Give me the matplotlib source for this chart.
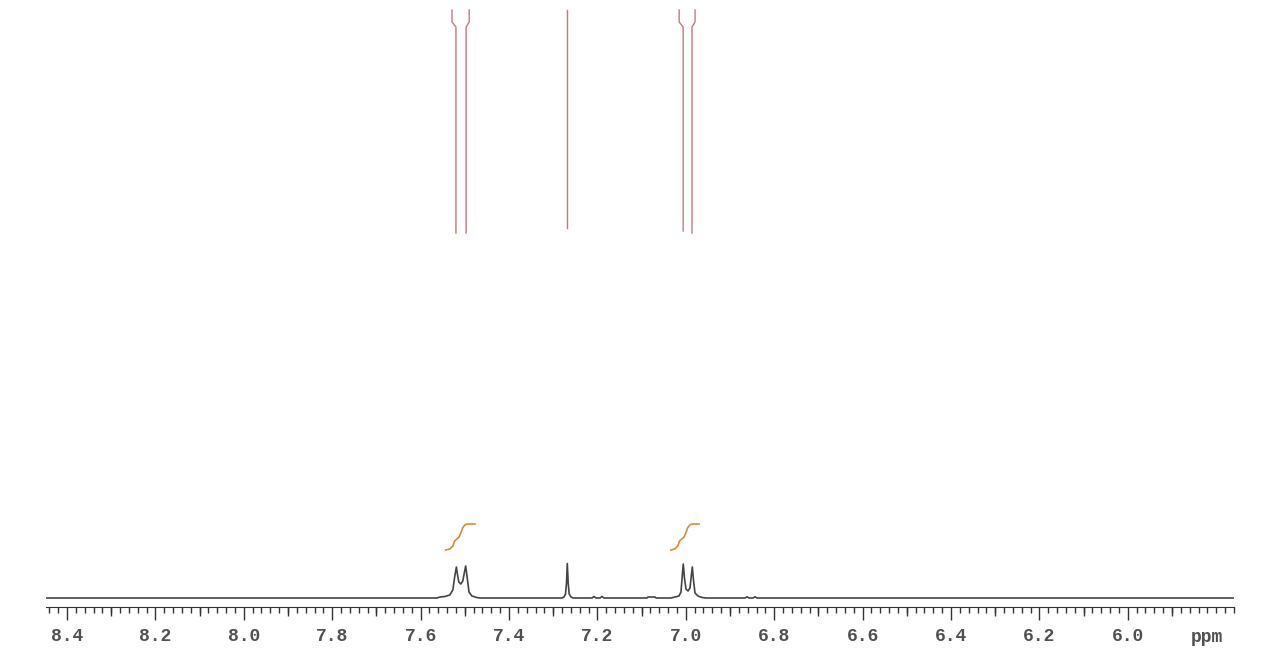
import matplotlib
matplotlib.use("Agg")
import matplotlib.pyplot as plt
from matplotlib.ticker import MultipleLocator, FixedLocator, FixedFormatter

# spectrum trace (ppm, intensity), baseline = 0
trace_ppm = [8.4475,
             7.563, 7.556, 7.545, 7.534, 7.527, 7.5226, 7.519, 7.5167, 7.5136, 7.509,
             7.5045, 7.5007, 7.498, 7.495, 7.4905, 7.484, 7.473, 7.466,
             7.280, 7.2755, 7.2721, 7.2699, 7.2681, 7.2661, 7.2638, 7.2597, 7.2552,
             7.212, 7.2077, 7.203, 7.194, 7.1896, 7.185,
             7.088, 7.0855, 7.0697, 7.067,
             7.0335, 7.0244, 7.0154, 7.0109, 7.008, 7.0057, 7.003, 6.9996, 6.995,
             6.9905, 6.9876, 6.9853, 6.9826, 6.9792, 6.9724, 6.9633, 6.9543,
             6.866, 6.8615, 6.857, 6.848, 6.8434, 6.839,
             5.7597]
trace_int = [0,
             0, 1, 1.5, 3, 8, 22, 31, 24, 16, 14,
             17, 26, 32, 22, 6, 2, 0.5, 0,
             0, 1, 4, 15, 34.5, 15, 4, 1, 0,
             0, 1.5, 0, 0, 1.5, 0,
             0, 1, 1, 0,
             0, 1, 2, 6, 22, 34, 20, 9, 7,
             10, 22, 31, 18, 5, 2, 0.5, 0,
             0, 1.2, 0, 0, 1.2, 0,
             0]

# integral curves
int1_ppm = [7.543, 7.534, 7.527, 7.523, 7.518, 7.513, 7.509, 7.505, 7.500, 7.495, 7.488, 7.477]
int1_val = [48, 49, 52, 57, 59, 61, 65, 70, 73, 74, 74, 74]
int2_ppm = [7.034, 7.025, 7.018, 7.014, 7.009, 7.004, 7.000, 6.996, 6.991, 6.986, 6.979, 6.970]
int2_val = [48, 49, 52, 57, 59, 61, 65, 70, 73, 74, 74, 74]

# peak picking lines: peak position and label position
peak_ppm = [7.520, 7.497, 7.2681, 7.006, 6.986]
label_ppm = [7.529, 7.490, 7.2681, 7.015, 6.979]
line_bottom = [365, 365, 370, 367, 365]

major_ticks = [8.4, 8.2, 8.0, 7.8, 7.6, 7.4, 7.2, 7.0, 6.8, 6.6, 6.4, 6.2, 6.0]
tick_labels = ["8.4", "8.2", "8.0", "7.8", "7.6", "7.4", "7.2", "7.0", "6.8", "6.6", "6.4", "6.2", "6.0"]
mid_ticks = [8.3, 8.1, 7.9, 7.7, 7.5, 7.3, 7.1, 6.9, 6.7, 6.5, 6.3, 6.1, 5.9]

W, H = 1275, 671
fig = plt.figure(figsize=(W / 100, H / 100), dpi=100)
ax = fig.add_axes([46 / W, 64 / H, 1188 / W, 607 / H])
ax.set_xlim(8.4475, 5.7597)
ax.set_ylim(-9, 598)

ax.plot(trace_ppm, trace_int, color="#444444", lw=1.2)
ax.plot(int1_ppm, int1_val, color="#d98b3a", lw=1.2)
ax.plot(int2_ppm, int2_val, color="#d98b3a", lw=1.2)

for p, l, b in zip(peak_ppm, label_ppm, line_bottom):
    ax.plot([l, l, p, p], [588, 576, 571, b], color="#c47a7a", lw=1.0, clip_on=False)

for s in ["top", "left", "right"]:
    ax.spines[s].set_visible(False)
ax.spines["bottom"].set_color("#333333")
ax.set_yticks([])

ax.xaxis.set_major_locator(FixedLocator(major_ticks))
ax.xaxis.set_major_formatter(FixedFormatter(tick_labels))
ax.xaxis.set_minor_locator(MultipleLocator(0.02))
ax.tick_params(axis="x", which="major", length=9, width=1, color="#333333", pad=6,
               labelsize=13, labelcolor="#505050")
ax.tick_params(axis="x", which="minor", length=4, width=1, color="#333333")
for t in ax.get_xticklabels():
    t.set_family("Liberation Mono")
    t.set_fontweight("bold")

sec = ax.secondary_xaxis("bottom")
sec.spines["bottom"].set_visible(False)
sec.set_xticks(mid_ticks)
sec.set_xticklabels([])
sec.tick_params(axis="x", length=6.5, width=1, color="#333333")

ax.text(5.821, -40, "ppm", ha="center", va="center", fontsize=13, color="#505050",
        family="Liberation Mono", fontweight="bold")

fig.savefig("out.png", dpi=100)
